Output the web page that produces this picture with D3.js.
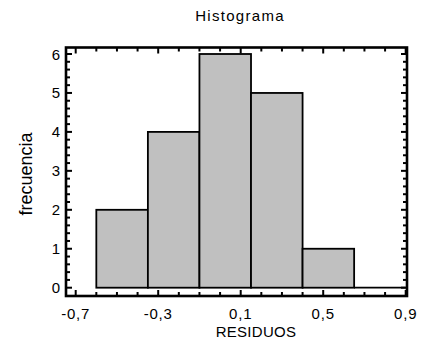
<!DOCTYPE html>
<html><head><meta charset="utf-8">
<script src="https://cdn.jsdelivr.net/npm/d3@7"></script>
<style>body{margin:0;background:#fff}svg{display:block}text{font-family:"Liberation Sans",Arial,sans-serif;fill:#000}</style>
</head><body><svg id="c" width="422" height="347"></svg>
<script>
const binStarts = [-0.6, -0.35, -0.1, 0.15, 0.4, 0.65];
const binEnds   = [-0.35, -0.1, 0.15, 0.4, 0.65, 0.9];
const counts    = [2, 4, 6, 5, 1, 0];
const xTickLabels = [-0.7, -0.3, 0.1, 0.5, 0.9];
const yTickLabels = [0, 1, 2, 3, 4, 5, 6];

const svg = d3.select("#c");
const x = d3.scaleLinear().domain([-0.7, 0.9]).range([75.7, 405.7]);
const y = d3.scaleLinear().domain([0, 6]).range([287.7, 54]);
const L = 66, R = 407, T = 47.5, B = 296;
const fmt = v => d3.format(".1f")(v).replace(".", ",").replace("−", "-");

// bars
const bars = binStarts.map((s, i) => ({s, e: binEnds[i], c: counts[i]}));
svg.append("g").selectAll("rect").data(bars.filter(d => d.c > 0)).join("rect")
  .attr("x", d => x(d.s)).attr("width", d => x(d.e) - x(d.s))
  .attr("y", d => y(d.c)).attr("height", d => y(0) - y(d.c))
  .attr("fill", "#c0c0c0").attr("stroke", "#000").attr("stroke-width", 1.8);
svg.append("g").selectAll("line").data(bars.filter(d => d.c === 0)).join("line")
  .attr("x1", d => x(d.s)).attr("x2", d => x(d.e))
  .attr("y1", d => y(d.c)).attr("y2", d => y(d.c))
  .attr("stroke", "#000").attr("stroke-width", 1.8);

// frame
svg.append("rect").attr("x", L).attr("y", T).attr("width", R - L).attr("height", B - T)
  .attr("fill", "none").attr("stroke", "#000").attr("stroke-width", 2.6);

// ticks (inward on all sides)
const xMinor = d3.range(-7, 10).map(v => v / 10);
const isMajX = v => xTickLabels.some(t => Math.abs(t - v) < 1e-9);
const g = svg.append("g").attr("stroke", "#000").attr("stroke-width", 2);
xMinor.forEach(v => {
  const len = isMajX(v) ? 6 : 4;
  g.append("line").attr("x1", x(v)).attr("x2", x(v)).attr("y1", B).attr("y2", B - len);
  g.append("line").attr("x1", x(v)).attr("x2", x(v)).attr("y1", T).attr("y2", T + len);
});
const yMinor = d3.range(0, 31).map(v => v / 5);
yMinor.forEach(v => {
  const len = Math.abs(v - Math.round(v)) < 1e-9 ? 6 : 4;
  g.append("line").attr("x1", L).attr("x2", L + len).attr("y1", y(v)).attr("y2", y(v));
  g.append("line").attr("x1", R).attr("x2", R - len).attr("y1", y(v)).attr("y2", y(v));
});

// tick labels
svg.append("g").selectAll("text").data(xTickLabels).join("text")
  .attr("x", d => x(d)).attr("y", 319).attr("text-anchor", "middle")
  .attr("font-size", 15).attr("letter-spacing", 0.8).text(d => fmt(d));
svg.append("g").selectAll("text").data(yTickLabels).join("text")
  .attr("x", 60).attr("y", d => y(d) + 5.5).attr("text-anchor", "end")
  .attr("font-size", 15).text(d => d);

// titles
svg.append("text").attr("x", 240).attr("y", 21).attr("text-anchor", "middle")
  .attr("font-size", 15).attr("letter-spacing", 1.3).text("Histograma");
svg.append("text").attr("x", 256).attr("y", 337).attr("text-anchor", "middle")
  .attr("font-size", 15).attr("letter-spacing", 0.3).text("RESIDUOS");
svg.append("text").attr("transform", "translate(32,174) rotate(-90)").attr("text-anchor", "middle")
  .attr("font-size", 18).text("frecuencia");
</script></body></html>
